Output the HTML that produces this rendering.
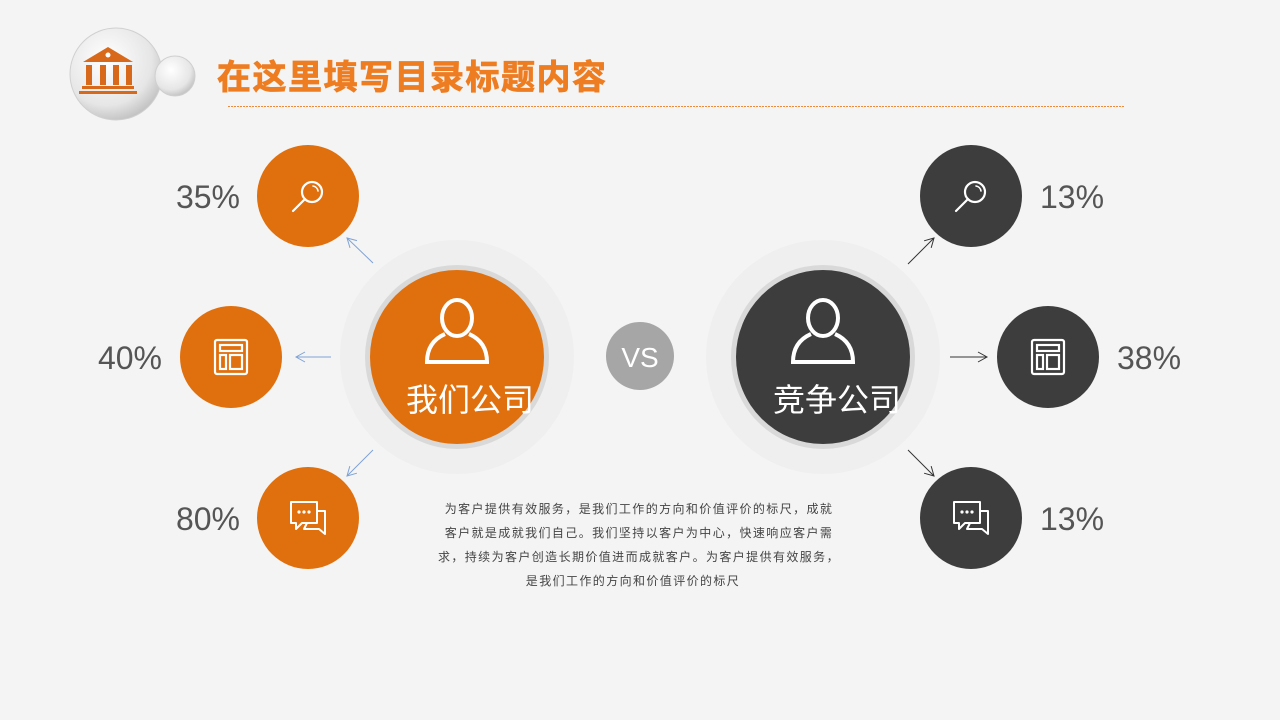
<!DOCTYPE html>
<html><head><meta charset="utf-8"><style>
html,body{margin:0;padding:0;width:1280px;height:720px;overflow:hidden;background:#f4f4f4;}
svg{display:block}
text{font-family:"Liberation Sans","Noto Sans CJK SC",sans-serif;}
</style></head><body>
<svg width="1280" height="720" viewBox="0 0 1280 720" xmlns="http://www.w3.org/2000/svg">
<defs>
<radialGradient id="lg" cx="40%" cy="35%" r="70%"><stop offset="0" stop-color="#ffffff"/><stop offset="0.7" stop-color="#e6e6e6"/><stop offset="1" stop-color="#bdbdbd"/></radialGradient>
<marker id="ab" markerWidth="12" markerHeight="12" refX="10" refY="6" orient="auto" markerUnits="userSpaceOnUse"><path d="M1,1 L10,6 L1,11" fill="none" stroke="#7fa3d6" stroke-width="1"/></marker>
<marker id="ad" markerWidth="12" markerHeight="12" refX="10" refY="6" orient="auto" markerUnits="userSpaceOnUse"><path d="M1,1 L10,6 L1,11" fill="none" stroke="#333" stroke-width="1"/></marker>
<g id="search" fill="none" stroke="#fff" stroke-width="2.2" stroke-linecap="round"><circle cx="4" cy="-4" r="10"/><path d="M-3,3 L-15,15"/><path d="M5,-10 a6,6 0 0 1 5,5" stroke-width="1.6"/></g>
<g id="layout" fill="none" stroke="#fff" stroke-width="2.2"><rect x="-16" y="-17" width="32" height="34" rx="2"/><rect x="-11" y="-12" width="22" height="6"/><rect x="-11" y="-2" width="6" height="14"/><rect x="-1" y="-2" width="12" height="14"/></g>
<g id="chat" fill="none" stroke="#fff" stroke-width="2" stroke-linejoin="round"><path d="M-17,-16 H9 V5 H-6 L-12,11 V5 H-17 Z"/><path d="M9,-7 H17 V16 L11,11 H-4 L-1,5"/><g fill="#fff" stroke="none"><circle cx="-9" cy="-6" r="1.6"/><circle cx="-4" cy="-6" r="1.6"/><circle cx="1" cy="-6" r="1.6"/></g></g>
<g id="user" fill="none" stroke="#fff" stroke-width="4"><ellipse cx="0" cy="-22" rx="15" ry="18"/><path d="M-12,-6 Q-30,2 -30,22 H30 Q30,2 12,-6"/></g>
</defs>

<circle cx="116" cy="74" r="46" fill="url(#lg)" stroke="#d0d0d0"/>
<circle cx="175" cy="76" r="20" fill="url(#lg)" stroke="#cfcfcf"/>
<g fill="#d9691a">
<path d="M83,62 L108,47 L133,62 Z"/>
<rect x="86" y="65" width="6" height="20"/><rect x="100" y="65" width="6" height="20"/><rect x="113" y="65" width="6" height="20"/><rect x="126" y="65" width="6" height="20"/>
<rect x="82" y="86" width="52" height="3"/><rect x="79" y="91" width="58" height="3"/>
</g>
<circle cx="108" cy="55" r="2.5" fill="#fff"/>
<text x="217" y="89" font-size="34" letter-spacing="1.5" font-weight="bold" fill="#ee7d22" stroke="#ee7d22" stroke-width="0.8">在这里填写目录标题内容</text>
<line x1="228" y1="106.5" x2="1124" y2="106.5" stroke="#ee8a3a" stroke-width="1" stroke-dasharray="2,1"/>

<circle cx="457" cy="357" r="117" fill="#efefef"/>
<circle cx="823" cy="357" r="117" fill="#efefef"/>
<circle cx="457" cy="357" r="92" fill="#d9d9d9"/>
<circle cx="457" cy="357" r="87" fill="#e0700e"/>
<circle cx="823" cy="357" r="92" fill="#d9d9d9"/>
<circle cx="823" cy="357" r="87" fill="#3d3d3d"/>
<use href="#user" x="457" y="340"/>
<use href="#user" x="823" y="340"/>
<text x="470" y="411" font-size="32" fill="#fff" text-anchor="middle">我们公司</text>
<text x="837" y="411" font-size="32" fill="#fff" text-anchor="middle">竞争公司</text>
<circle cx="640" cy="356" r="34" fill="#a6a6a6"/>
<text x="640" y="367" font-size="28" fill="#fff" text-anchor="middle">VS</text>

<g fill="#e0700e"><circle cx="308" cy="196" r="51"/><circle cx="231" cy="357" r="51"/><circle cx="308" cy="518" r="51"/></g>
<g fill="#3d3d3d"><circle cx="971" cy="196" r="51"/><circle cx="1048" cy="357" r="51"/><circle cx="971" cy="518" r="51"/></g>
<use href="#search" x="308" y="196"/><use href="#layout" x="231" y="357"/><use href="#chat" x="308" y="518"/>
<use href="#search" x="971" y="196"/><use href="#layout" x="1048" y="357"/><use href="#chat" x="971" y="518"/>

<g stroke="#7fa3d6" stroke-width="1"><line x1="373" y1="263" x2="347" y2="238" marker-end="url(#ab)"/><line x1="331" y1="357" x2="296" y2="357" marker-end="url(#ab)"/><line x1="373" y1="450" x2="347" y2="476" marker-end="url(#ab)"/></g>
<g stroke="#333" stroke-width="1"><line x1="908" y1="264" x2="934" y2="238" marker-end="url(#ad)"/><line x1="950" y1="357" x2="987" y2="357" marker-end="url(#ad)"/><line x1="908" y1="450" x2="934" y2="476" marker-end="url(#ad)"/></g>

<g font-size="32" fill="#555">
<text x="240" y="208" text-anchor="end">35%</text>
<text x="162" y="369" text-anchor="end">40%</text>
<text x="240" y="530" text-anchor="end">80%</text>
<text x="1040" y="208">13%</text>
<text x="1117" y="369">38%</text>
<text x="1040" y="530">13%</text>
</g>

<g font-size="12" fill="#444" text-anchor="middle" letter-spacing="1.4">
<text x="639" y="513">为客户提供有效服务，是我们工作的方向和价值评价的标尺，成就</text>
<text x="639" y="537">客户就是成就我们自己。我们坚持以客户为中心，快速响应客户需</text>
<text x="639" y="561">求，持续为客户创造长期价值进而成就客户。为客户提供有效服务，</text>
<text x="633" y="585">是我们工作的方向和价值评价的标尺</text>
</g>
</svg>
</body></html>
